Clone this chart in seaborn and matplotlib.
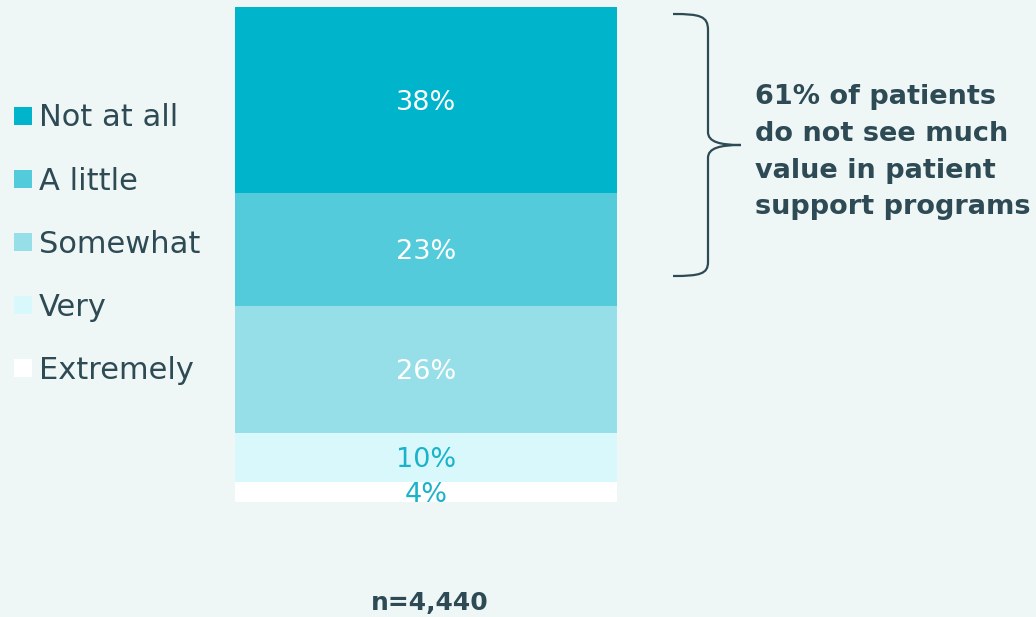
import numpy as np
import matplotlib.pyplot as plt
import seaborn as sns
from matplotlib.lines import Line2D
from matplotlib.path import Path
from matplotlib.patches import PathPatch

# data
categories = ["Not at all", "A little", "Somewhat", "Very", "Extremely"]
values = [38, 23, 26, 10, 4]
colors = ["#00b4cc", "#53cbdb", "#96dfe8", "#d9f8fc", "#ffffff"]
label_colors = ["white", "white", "white", "#1ab3c9", "#1ab3c9"]
note = "61% of patients\ndo not see much\nvalue in patient\nsupport programs"
n_label = "n=4,440"

bg = "#eef7f5"
dark = "#2d4a55"

sns.set_theme(style="white")
plt.rcParams['font.family'] = ['DejaVu Sans']

W, H = 1036, 617
fig = plt.figure(figsize=(W / 100, H / 100), dpi=100, facecolor=bg)
ax = fig.add_axes([235 / W, 115 / H, 382 / W, 495 / H])
ax.set_facecolor(bg)

# stacked bar: draw cumulative heights, largest first
bottoms = np.cumsum(values[::-1])[::-1]  # top of each segment
total = bottoms[0]
for cat, top, col in zip(categories, bottoms, colors):
    sns.barplot(x=[0], y=[top], color=col, width=1.0, ax=ax,
                saturation=1, linewidth=0, native_scale=True)

for v, top, lc in zip(values, bottoms, label_colors):
    ax.text(0, top - v / 2 - 0.5, f"{v}%", ha="center", va="center",
            color=lc, fontsize=19.5)

ax.set_xlim(-0.5, 0.5)
ax.set_ylim(0, total)
ax.axis("off")

# legend
handles = [Line2D([0], [0], marker="s", linestyle="none", markersize=13,
                  markerfacecolor=c, markeredgewidth=0) for c in colors]
fig.legend(handles, categories, loc="upper left", bbox_to_anchor=(-1 / W, 1 - 88 / H),
           frameon=False, fontsize=22, labelcolor=dark, handlelength=0.6,
           handletextpad=0.2, labelspacing=1.12, borderpad=0)

# brace
px = lambda x, y: (x / W, 1 - y / H)
verts = [px(673, 14), px(700, 14), px(708, 16), px(708, 30),
         px(708, 132),
         px(708, 142), px(720, 145), px(741, 145),
         px(720, 145), px(708, 148), px(708, 158),
         px(708, 262),
         px(708, 274), px(700, 276), px(673, 276)]
codes = [Path.MOVETO, Path.CURVE4, Path.CURVE4, Path.CURVE4,
         Path.LINETO,
         Path.CURVE4, Path.CURVE4, Path.CURVE4,
         Path.CURVE4, Path.CURVE4, Path.CURVE4,
         Path.LINETO,
         Path.CURVE4, Path.CURVE4, Path.CURVE4]
fig.add_artist(PathPatch(Path(verts, codes), fill=False, edgecolor=dark,
                         linewidth=1.6, transform=fig.transFigure))

fig.text(755 / W, 1 - 84 / H, note, ha="left", va="top", color=dark,
         fontsize=19.5, fontweight="bold", linespacing=1.54)

fig.text(430 / W, 1 - 603 / H, n_label, ha="center", va="center", color=dark,
         fontsize=18, fontweight="bold")

fig.savefig("out.png", dpi=100, facecolor=bg)
